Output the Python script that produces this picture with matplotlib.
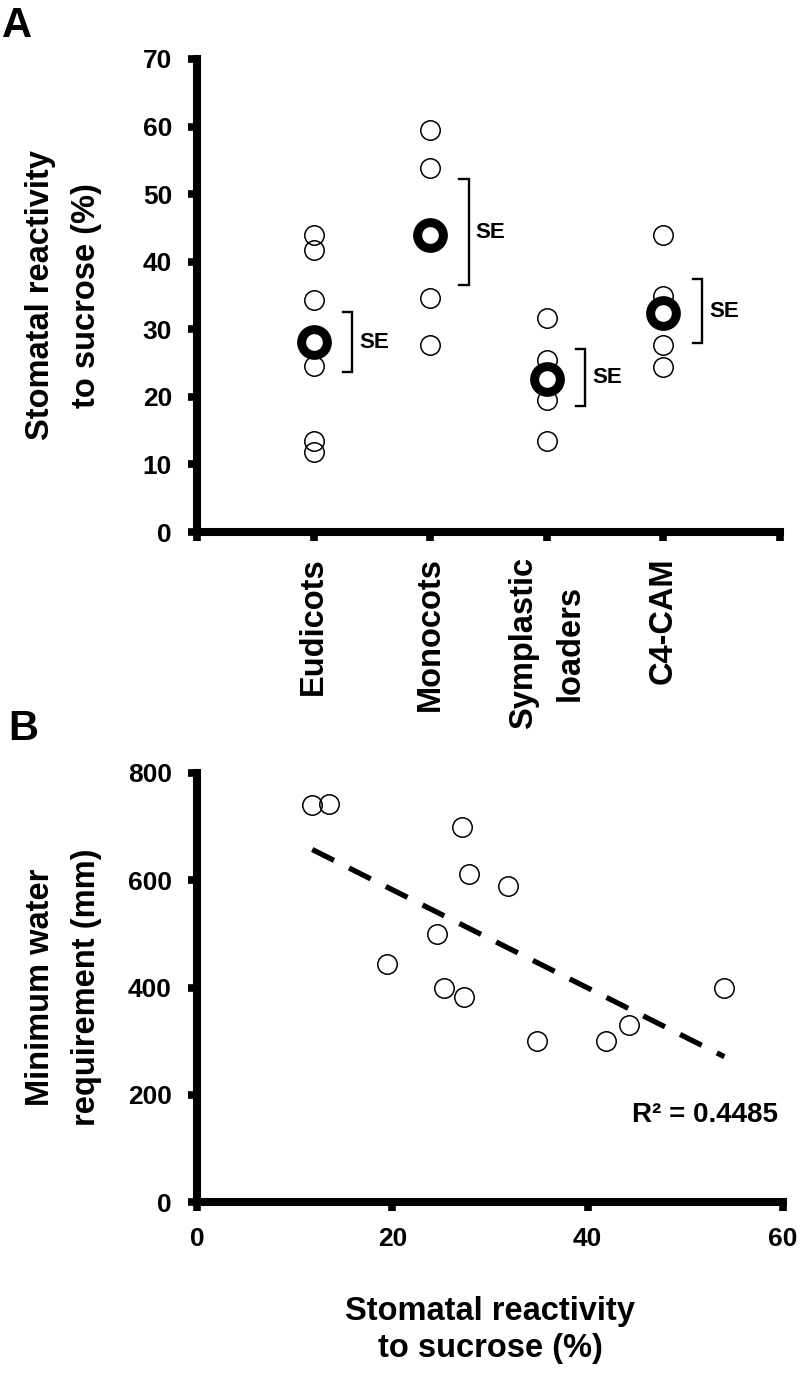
import numpy as np
import matplotlib.pyplot as plt

plt.rcParams['font.family'] = ['Liberation Sans', 'DejaVu Sans']
plt.rcParams['font.weight'] = 'bold'

# panel A: stomatal reactivity per group
categories = ['Eudicots', 'Monocots', 'Symplastic\nloaders', 'C4-CAM']
eudicots = [44.0, 41.8, 34.4, 24.6, 13.5, 11.8]
monocots = [59.5, 53.9, 34.6, 27.7]
symplastic = [31.7, 25.5, 19.5, 13.5]
c4_cam = [44.0, 35.0, 27.7, 24.4]
group_means = [28.1, 44.0, 22.6, 32.4]
se_low = [23.7, 36.5, 18.7, 28.0]
se_high = [32.5, 52.2, 27.1, 37.4]

# panel B: water requirement vs reactivity
reactivity = [11.8, 13.5, 27.1, 27.8, 24.6, 19.5, 25.3, 27.3, 31.8, 54.0, 44.2, 34.8, 41.9]
water_req = [740, 742, 700, 611, 500, 443, 400, 382, 590, 400, 330, 300, 300]
r2_label = 'R\u00b2 = 0.4485'

W, H = 800, 1373
fig = plt.figure(figsize=(W / 100, H / 100), dpi=100)
axA = fig.add_axes([197 / W, 1 - 532 / H, (780 - 197) / W, (532 - 59) / H])
axB = fig.add_axes([197 / W, 1 - 1202 / H, (783 - 197) / W, (1202 - 773) / H])


def style_axes(ax):
    for s in ['top', 'right']:
        ax.spines[s].set_visible(False)
    for s in ['left', 'bottom']:
        ax.spines[s].set_linewidth(5.8)
    ax.tick_params(direction='out', length=6.5, width=5.5, pad=11.5, labelsize=19)
    for lab in ax.get_xticklabels() + ax.get_yticklabels():
        lab.set_fontweight('bold')


# ---- panel A
groups = [eudicots, monocots, symplastic, c4_cam]
for i, vals in enumerate(groups):
    xs = [i + 1] * len(vals)
    axA.plot(xs, vals, 'o', ms=14, mfc='none', mec='black', mew=1.1, clip_on=False)
for i, m in enumerate(group_means):
    axA.plot(i + 1, m, 'o', ms=18.5, mfc='white', mec='black', mew=6.5, zorder=5)
    bx = i + 1 + 0.33
    axA.plot([bx - 0.08, bx, bx, bx - 0.08], [se_high[i], se_high[i], se_low[i], se_low[i]],
             color='black', lw=1.7, solid_joinstyle='miter')
    axA.text(bx + 0.06, (se_high[i] + se_low[i]) / 2, 'SE', fontsize=16, fontweight='bold',
             ha='left', va='center')

axA.set_xlim(0, 5)
axA.set_ylim(0, 70)
axA.set_yticks(range(0, 71, 10))
axA.set_xticks(range(6))
axA.set_xticklabels([''] + categories + [''])
style_axes(axA)
for lab in axA.get_xticklabels():
    lab.set_rotation(90)
    lab.set_fontsize(23.5)
    lab.set_linespacing(1.65)
    lab.set_multialignment('center')
axA.set_ylabel('Stomatal reactivity\nto sucrose (%)', fontsize=23.5, fontweight='bold',
               linespacing=1.65, va='center')
axA.yaxis.set_label_coords((63.5 - 197) / 583, 0.5)

# ---- panel B
axB.plot(reactivity, water_req, 'o', ms=14, mfc='none', mec='black', mew=1.1)
slope, intercept = np.polyfit(reactivity, water_req, 1)
xfit = np.array([min(reactivity), max(reactivity)])
line, = axB.plot(xfit, slope * xfit + intercept, color='black', lw=3.8, solid_capstyle='butt')
line.set_dashes((4.6, 3.2))
axB.text(0.991, 0.203, r2_label, transform=axB.transAxes, fontsize=20, fontweight='bold',
         ha='right', va='center')

axB.set_xlim(0, 60)
axB.set_ylim(0, 800)
axB.set_xticks(range(0, 61, 20))
axB.set_yticks(range(0, 801, 200))
style_axes(axB)
axB.set_ylabel('Minimum water\nrequirement (mm)', fontsize=23.5, fontweight='bold',
               linespacing=1.65, va='center')
axB.yaxis.set_label_coords((63.5 - 197) / 586, 0.5)
axB.set_xlabel('Stomatal reactivity\nto sucrose (%)', fontsize=23.5, fontweight='bold',
               linespacing=1.25, va='center')
axB.xaxis.set_label_coords(0.5, (1202 - 1330) / 429)

fig.text(2 / W, 1 - 37 / H, 'A', fontsize=30, fontweight='bold', va='baseline', ha='left')
fig.text(8 / W, 1 - 740 / H, 'B', fontsize=30, fontweight='bold', va='baseline', ha='left')

fig.savefig('out.png', dpi=100)
plt.close(fig)
